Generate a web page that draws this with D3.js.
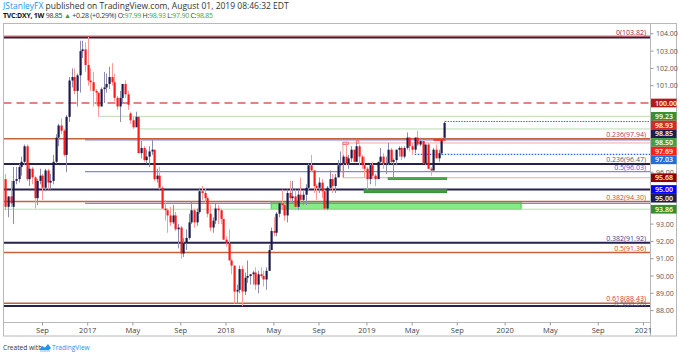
<!DOCTYPE html>
<html><head><meta charset="utf-8">
<script src="https://cdn.jsdelivr.net/npm/d3@7"></script>
<style>body{margin:0;background:#fff;} svg{display:block;font-family:"Open Sans",sans-serif;}</style>
</head><body><svg id="c" width="679" height="355"></svg>
<script>
// ---------------- DATA ----------------
const firstWeek = "2016-05-30"; // weekly bars, consecutive weeks
const openV = [95.6,94.0,94.6,94.0,95.5,95.6,96.3,96.6,97.5,95.6,96.2,95.7,94.5,95.5,95.8,95.1,96.1,95.4,95.5,96.6,98.0,98.7,98.4,97.0,99.2,101.3,101.5,100.7,101.6,103.0,103.1,
102.2,101.3,101.2,100.7,100.6,99.8,100.8,100.9,101.1,101.5,101.2,100.3,99.8,100.3,101.1,100.5,99.4,99.0,98.6,99.2,97.1,97.4,96.7,96.9,97.2,97.3,95.6,95.8,95.1,93.9,93.8,93.5,93.1,93.5,92.7,92.8,91.3,91.9,92.2,93.1,93.8,93.1,93.7,94.9,94.8,94.5,93.6,92.8,93.2,93.9,93.8,93.3,
92.1,91.9,90.9,90.6,89.1,89.2,90.4,89.1,89.9,90.0,90.1,90.2,89.5,90.1,90.0,89.8,90.3,91.5,92.6,92.5,93.6,94.2,94.1,93.5,94.8,94.5,94.6,94.0,94.7,94.4,94.7,95.1,96.4,96.1,95.2,95.1,95.4,94.9,93.9,95.1,95.6,95.2,95.7,96.4,96.5,96.9,96.5,96.8,97.3,96.6,97.5,96.9,
96.4,96.2,95.6,96.4,95.8,95.6,96.6,96.9,96.5,96.5,97.3,96.6,96.7,97.3,97.4,96.9,97.4,98.0,97.5,97.3,98.0,97.6,97.8,96.5,97.6,96.2,96.1,97.3,96.8,97.1,97.99];
const highV = [95.9,94.6,95.5,96.3,96.3,96.5,96.9,97.6,97.6,96.4,96.3,95.8,95.6,96.2,95.9,96.2,96.2,95.9,97.0,98.2,98.8,99.1,98.5,99.3,101.5,102.0,102.0,101.7,103.6,103.6,103.5,
103.82,102.0,101.8,100.8,100.6,100.9,101.8,101.7,102.1,102.3,101.7,100.4,100.7,101.1,101.3,100.7,99.5,99.2,99.5,99.2,97.8,97.5,97.3,97.5,97.9,97.3,96.2,96.3,95.2,94.4,93.9,94.0,94.1,93.7,93.0,92.9,92.2,92.7,93.6,94.3,93.9,93.9,95.1,95.2,95.1,94.6,94.1,93.4,94.2,94.1,93.9,93.3,
92.3,92.7,91.0,90.6,89.5,90.6,90.6,90.2,90.9,90.1,90.3,90.5,90.3,90.5,90.3,90.5,91.8,92.8,93.4,93.7,94.3,95.0,94.2,95.0,95.5,95.5,95.0,95.0,95.7,94.9,95.3,96.5,97.0,96.1,95.3,95.7,95.6,95.0,95.2,96.1,95.9,95.9,96.7,97.2,97.0,97.7,97.0,97.5,97.3,97.7,97.6,97.0,
96.9,96.3,96.5,96.6,95.9,96.6,97.4,97.1,96.9,97.7,97.4,96.8,97.3,97.5,97.5,97.5,98.3,98.0,97.7,98.0,98.4,98.0,97.8,97.6,97.7,96.3,97.4,97.6,97.3,98.0,98.93];
const lowV = [93.8,93.4,94.0,93.0,95.3,95.4,95.8,96.4,95.5,95.2,95.3,93.9,94.1,95.3,94.4,94.9,95.0,95.0,95.3,96.5,97.5,98.2,96.9,96.0,98.9,100.9,100.5,99.8,100.6,102.6,101.8,
101.0,100.7,99.8,99.9,99.2,99.8,100.0,100.6,100.8,101.0,100.1,99.6,98.9,100.0,100.3,99.6,98.8,98.5,98.6,97.1,96.8,96.6,96.5,96.3,97.0,95.5,95.4,95.0,93.9,93.2,92.5,92.9,93.0,92.6,91.6,91.0,91.1,91.5,92.1,93.0,92.8,92.9,93.6,94.4,94.3,93.4,92.6,92.5,93.0,93.0,93.0,92.1,
91.7,90.9,90.1,88.4,88.4,89.0,88.25,88.9,89.6,89.5,89.5,89.2,89.0,89.9,89.4,89.2,90.3,91.5,92.3,92.3,93.4,93.8,93.2,93.1,94.3,94.2,93.8,93.8,94.3,94.1,94.1,94.9,96.0,94.8,94.4,94.8,94.5,93.8,93.8,95.0,94.8,94.8,95.7,96.0,95.7,96.4,96.2,96.6,96.6,96.6,96.4,96.2,
95.7,95.0,95.3,95.6,95.2,95.6,96.5,96.2,95.9,96.4,96.5,95.7,96.4,96.9,96.7,96.8,97.3,97.2,97.0,97.1,97.5,97.5,96.5,96.4,96.2,95.8,96.1,96.8,96.6,97.0,97.90];
const closeV = [94.0,94.6,94.2,95.5,95.6,96.3,96.6,97.5,95.6,96.2,95.7,94.5,95.5,95.8,95.1,96.1,95.4,95.5,96.6,98.0,98.7,98.4,97.0,99.2,101.3,101.5,100.7,101.6,103.0,103.1,102.2,
101.3,101.2,100.7,100.6,99.8,100.8,100.9,101.1,101.5,101.2,100.3,99.8,100.3,101.1,100.5,99.9,99.0,98.6,99.2,97.1,97.4,96.7,96.9,97.2,97.3,95.6,95.8,95.1,93.9,93.8,93.5,93.1,93.5,92.7,92.8,91.3,91.9,92.2,93.1,93.8,93.1,93.7,94.9,94.8,94.5,93.6,92.8,93.2,93.9,93.8,93.3,92.1,
91.9,90.9,90.6,89.1,89.2,90.4,89.1,89.9,90.0,90.1,90.2,89.5,90.1,90.0,89.8,90.3,91.5,92.6,92.5,93.6,94.2,94.1,93.5,94.8,94.5,94.6,94.0,94.7,94.4,94.7,95.1,96.4,96.1,95.2,95.1,95.4,94.9,93.9,95.1,95.6,95.2,95.7,96.4,96.5,96.9,96.5,96.8,97.3,96.6,97.5,96.9,96.4,
96.2,95.6,96.4,95.8,95.6,96.6,96.9,96.5,96.5,97.3,96.6,96.7,97.3,97.4,96.9,97.4,98.0,97.5,97.3,98.0,97.6,97.8,96.5,97.6,96.2,96.1,97.3,96.8,97.1,97.9,98.85];

const priceTicks = [88,89,90,91,92,93,94,95,96,97,98,99,100,101,102,103,104];
const timeTickDates = ["2016-09-05","2017-01-02","2017-05-01","2017-09-04","2018-01-01","2018-05-07","2018-09-03","2019-01-07","2019-05-06","2019-09-02","2020-01-06","2020-05-04","2020-09-07","2021-01-04"];
const timeTickLabels = ["Sep","2017","May","Sep","2018","May","Sep","2019","May","Sep","2020","May","Sep","2021"];

// Fibonacci retracement A (2014 low -> 2017 high)
const fibALevels = ["0","0.236","0.382","0.5","0.618"];
const fibAPrices = [103.82,97.94,94.30,91.36,88.43];
// Fibonacci retracement C (2011 low -> 2017 high)
const fibCLevels = ["0.236","0.382","0.5"];
const fibCPrices = [96.47,91.92,88.26];
// Fibonacci retracement B (2017 high -> 2018 low)
const fibBLevels = ["0.382","0.5","0.618"];
const fibBPrices = [97.87,96.03,94.20];
const fibBStart = "2016-12-26";

const keyLevels = [100.00, 95.00];
const greenLevels = [99.23, 98.50, 93.86];
const greenStarts = ["2017-01-30","2017-05-15",null];
const rangeBox = [97.69, 95.68]; const rangeStart = "2018-11-05";
const dottedBlue = 97.03; const dottedBlueStart = "2019-05-13";
const dottedRed = 98.93;
const zoneWide = [94.30, 93.86]; const zoneWideDates = ["2018-04-30","2020-02-17"];
const zoneMid = [95.00, 94.82]; const zoneMidDates = ["2018-12-31","2019-08-05"];
const zoneSmall = [95.68, 95.58]; const zoneSmallDates = ["2019-03-04","2019-08-05"];
const redSeg = 97.87; const redSegDates = ["2019-07-01","2019-08-02"];
const markBoxes = [[97.74,97.60,"2018-11-05","2018-11-19"],[97.82,97.68,"2018-12-10","2018-12-17"]];

const axisLabels = [100.00,99.23,98.93,98.85,98.50,97.69,97.03,95.68,95.00,95.00,93.86];
const axisLabelColors = ["#b31b1b","#3a8f2e","#d42a2a","#1f1d4d","#43a047","#ff1f1f","#1e6fd9","#8b0000","#0000ff","#1f1d4d","#3a8a2e"];

// ---------------- DRAW ----------------
const svg = d3.select("#c");
const parse = d3.utcParse("%Y-%m-%d");
const W0 = parse(firstWeek);
const dates = closeV.map((_, i) => d3.utcDay.offset(W0, 7 * i));

const x = d3.scaleUtc().domain([parse("2017-01-02"), parse("2019-07-29")]).range([87.7, 444]);
const y = d3.scaleLinear().domain([88, 104]).range([310.6, 33.8]);

const PL = 3.5, PR = 650.5, PT = 23.5, PB = 322.5;

// frame
svg.append("rect").attr("x", 3.5).attr("y", 23.5).attr("width", 673).attr("height", 312.5)
  .attr("fill", "none").attr("stroke", "#b8b8b8");
svg.append("line").attr("x1", 3.5).attr("x2", PR).attr("y1", PB).attr("y2", PB).attr("stroke", "#b8b8b8");
svg.append("line").attr("x1", PR).attr("x2", PR).attr("y1", 23.5).attr("y2", 336).attr("stroke", "#b8b8b8");

svg.append("clipPath").attr("id", "pane").append("rect")
  .attr("x", PL + 0.5).attr("y", PT + 0.5).attr("width", PR - PL - 1).attr("height", PB - PT - 1);
const g = svg.append("g").attr("clip-path", "url(#pane)");

function hline(p, x1, stroke, w, dash, x2) {
  const l = g.append("line").attr("x1", x1).attr("x2", x2 === undefined ? PR : x2)
    .attr("y1", y(p)).attr("y2", y(p)).attr("stroke", stroke).attr("stroke-width", w);
  if (dash) l.attr("stroke-dasharray", dash);
  return l;
}

// zones
function zone(pr, ds, fill, stroke) {
  g.append("rect").attr("x", x(parse(ds[0]))).attr("width", x(parse(ds[1])) - x(parse(ds[0])))
    .attr("y", y(pr[0])).attr("height", y(pr[1]) - y(pr[0]))
    .attr("fill", fill).attr("stroke", stroke).attr("stroke-width", 1);
}
zone(zoneWide, zoneWideDates, "#86ec86", "#4cc44c");

// pale green lines
greenLevels.forEach((p, i) => hline(p, greenStarts[i] ? x(parse(greenStarts[i])) : PL, "#b9dcb4", 1));

// range box (pink)
const rx = x(parse(rangeStart));
hline(rangeBox[0], rx, "#f3a5a5", 1);
hline(rangeBox[1], rx, "#f3a5a5", 1);
g.append("line").attr("x1", rx).attr("x2", rx).attr("y1", y(rangeBox[0])).attr("y2", y(rangeBox[1]))
  .attr("stroke", "#f3a5a5").attr("stroke-width", 1);

// fib B (blue)
const fbx = x(parse(fibBStart));
fibBPrices.forEach(p => hline(p, fbx, "#7b86f2", 1.3));

// fib A (orange-brown)
fibAPrices.forEach((p, i) => {
  if (i === 0) return;
  hline(p, PL, "#c4633b", 1.5);
});
// fib C (navy)
fibCPrices.forEach(p => hline(p, PL, "#25224f", 2));
// 0 level: navy + maroon
hline(fibAPrices[0], PL, "#25224f", 1.6).attr("transform", "translate(0,0.8)");
hline(fibAPrices[0], PL, "#8e1f2e", 1).attr("transform", "translate(0,-0.7)");

// key levels
hline(keyLevels[0], PL, "#dd5a5a", 1.5, "8,5");
hline(keyLevels[1], PL, "#25224f", 2);

// dotted lines
hline(dottedBlue, x(parse(dottedBlueStart)), "#2f62e0", 1.2, "1.5,1.5");
hline(dottedRed, x(dates[dates.length - 1]) + 1, "#e53935", 1.2, "1.5,1.2");

// small green zones
zone(zoneMid, zoneMidDates, "#3f9d3f", "#358a35");
zone(zoneSmall, zoneSmallDates, "#4caf50", "#3f9d3f");

// marker boxes
markBoxes.forEach(b => {
  g.append("rect").attr("x", x(parse(b[2]))).attr("width", x(parse(b[3])) - x(parse(b[2])))
    .attr("y", y(b[0])).attr("height", y(b[1]) - y(b[0]))
    .attr("fill", "#ffd0d0").attr("stroke", "#f06060").attr("stroke-width", 0.8);
});

// candles
const upC = "#1d1b4c", dnC = "#ff1a1a";
const cg = g.append("g");
dates.forEach((d, i) => {
  const cx = Math.round(x(d)) + 0.5;
  const up = closeV[i] >= openV[i];
  cg.append("line").attr("x1", cx).attr("x2", cx).attr("y1", y(highV[i])).attr("y2", y(lowV[i]))
    .attr("stroke", up ? "#8e8db0" : "#ff9a9a").attr("stroke-width", 1);
  const y0 = y(Math.max(openV[i], closeV[i])), y1 = y(Math.min(openV[i], closeV[i]));
  cg.append("rect").attr("x", cx - 1).attr("width", 2.2).attr("y", y0).attr("height", Math.max(1, y1 - y0))
    .attr("fill", up ? upC : dnC);
});

// red short segment
hline(redSeg, x(parse(redSegDates[0])), "#ff3030", 2, null, x(parse(redSegDates[1])));

// fib labels
const lab = svg.append("g").attr("font-size", 7).attr("text-anchor", "end");
function flabel(txt, p, col, dy) {
  lab.append("text").attr("x", 646).attr("y", y(p) - 1.8 + (dy || 0)).attr("fill", col).text(txt);
}
const fibAColors = ["#8e1f4a","#a8436a","#c0503a","#d2461f","#e0352f"];
fibAPrices.forEach((p, i) => flabel(fibALevels[i] + "(" + p.toFixed(2) + ")", p, fibAColors[i]));
const fibCColors = ["#5a5a7a","#3a3f8f","#6a6a8a"];
fibCPrices.forEach((p, i) => flabel(fibCLevels[i] + "(" + p.toFixed(2) + ")", p, fibCColors[i], i === 2 ? 1.5 : 0));
flabel(fibBLevels[1] + "(" + fibBPrices[1].toFixed(2) + ")", fibBPrices[1], "#3b4cf0");

// price labels (stacked to avoid overlap)
const H = 8.7;
let prev = -1e9;
const boxYs = [];
axisLabels.forEach((p, i) => {
  let cy = y(p);
  if (cy < prev + H) cy = prev + H;
  prev = cy;
  boxYs.push(cy);
});

// price axis ticks (labels hidden where a price label covers them)
const ax = svg.append("g").attr("font-size", 7).attr("fill", "#555");
priceTicks.forEach(t => {
  const ty = y(t);
  ax.append("line").attr("x1", PR).attr("x2", PR + 3).attr("y1", ty).attr("y2", ty).attr("stroke", "#999");
  const covered = boxYs.some(b => Math.abs(b - ty) < H / 2 + 1);
  if (!covered) ax.append("text").attr("x", 656).attr("y", ty + 2.5).text(t.toFixed(2));
});

axisLabels.forEach((p, i) => {
  const cy = boxYs[i];
  svg.append("rect").attr("x", 651).attr("y", cy - H / 2).attr("width", 25.5).attr("height", H)
    .attr("fill", axisLabelColors[i]);
  svg.append("text").attr("x", 655).attr("y", cy + 2.5).attr("font-size", 7).attr("fill", "#fff")
    .attr("font-weight", 600).text(p.toFixed(2));
});

// time axis
const tx = svg.append("g").attr("font-size", 7.5).attr("fill", "#444").attr("text-anchor", "middle");
timeTickDates.forEach((ds, i) => {
  const xx = x(parse(ds));
  tx.append("line").attr("x1", xx).attr("x2", xx).attr("y1", PB).attr("y2", PB + 3).attr("stroke", "#999");
  tx.append("text").attr("x", xx).attr("y", 333).text(timeTickLabels[i]);
});

// header
const h1 = svg.append("text").attr("x", 3).attr("y", 9).attr("font-size", 8.5).attr("fill", "#333");
h1.append("tspan").attr("fill", "#2196f3").text("JStanleyFX");
h1.append("tspan").text(" published on TradingView.com, August 01, 2019 08:46:32 EDT");
const h2 = svg.append("text").attr("x", 3).attr("y", 18).attr("font-size", 7).attr("fill", "#333")
  .attr("letter-spacing", -0.25);
h2.append("tspan").attr("font-weight", 700).attr("fill", "#111").text("TVC:DXY, 1W");
h2.append("tspan").text(" 98.85 ");
h2.append("tspan").attr("fill", "#2e9e3e").text("▲");
h2.append("tspan").text(" +0.28 (+0.29%) O:");
h2.append("tspan").attr("fill", "#3aa83a").text("97.99");
h2.append("tspan").text(" H:");
h2.append("tspan").attr("fill", "#3aa83a").text("98.93");
h2.append("tspan").text(" L:");
h2.append("tspan").attr("fill", "#3aa83a").text("97.90");
h2.append("tspan").text(" C:");
h2.append("tspan").attr("fill", "#3aa83a").text("98.85");

// footer
svg.append("text").attr("x", 3).attr("y", 350).attr("font-size", 6.6).attr("fill", "#333").text("Created with");
const logo = svg.append("g").attr("transform", "translate(39,344)");
logo.append("path").attr("d", "M0,6 L3,2 L6,3.5 L9,0 L12,4 L10,6 Z").attr("fill", "#2196f3");
logo.append("path").attr("d", "M1,7 L11,7").attr("stroke", "#90caf9").attr("stroke-width", 1.2);
svg.append("text").attr("x", 52).attr("y", 350).attr("font-size", 6.6).attr("fill", "#2196f3").text("TradingView");
</script>
</body></html>
